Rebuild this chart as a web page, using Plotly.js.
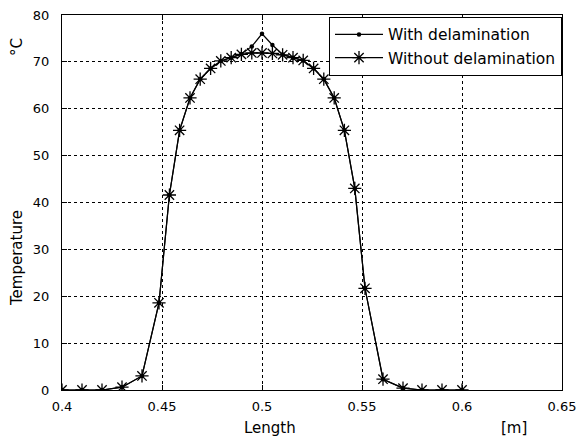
<!DOCTYPE html>
<html>
<head>
<meta charset="utf-8">
<script src="https://cdn.plot.ly/plotly-3.0.1.min.js"></script>
<style>html,body{margin:0;padding:0;background:#fff;}#chart{width:578px;height:438px;}</style>
</head>
<body>
<div id="chart"></div>
<script>
// Positions along the length [m]
const lengthM = [0.40, 0.41, 0.42, 0.43, 0.44, 0.4485, 0.4537, 0.4588, 0.4640, 0.4691, 0.4743, 0.4794, 0.4846, 0.4897, 0.4949, 0.5000, 0.5052, 0.5103, 0.5155, 0.5206, 0.5258, 0.5309, 0.5361, 0.5412, 0.5464, 0.5515, 0.5605, 0.5705, 0.58, 0.59, 0.60];
// Temperature without delamination [°C]
const tempWithout = [0, 0, 0, 0.6, 3.0, 18.6, 41.6, 55.4, 62.3, 66.3, 68.6, 70.2, 70.9, 71.6, 71.9, 71.9, 71.8, 71.5, 70.9, 70.3, 68.6, 66.3, 62.3, 55.4, 43.0, 21.7, 2.3, 0.4, 0, 0, 0];
// Temperature with delamination [°C]
const tempWith = [0, 0, 0, 0.6, 3.0, 18.6, 41.6, 55.4, 62.3, 66.3, 68.6, 70.2, 70.9, 71.7, 73.3, 76.0, 73.6, 71.6, 70.9, 70.3, 68.6, 66.3, 62.3, 55.4, 43.0, 21.7, 2.3, 0.4, 0, 0, 0];

const xTicks = [0.4, 0.45, 0.5, 0.55, 0.6, 0.65];
const xTickText = ['0.4', '0.45', '0.5', '0.55', '0.6', '0.65'];
const yTicks = [0, 10, 20, 30, 40, 50, 60, 70, 80];

const fam = '"DejaVu Sans", Arial, sans-serif';
const tickFont = {family: fam, size: 13, color: '#000'};
const labelFont = {family: fam, size: 15, color: '#000'};

const traces = [
  {
    x: lengthM, y: tempWith, name: 'With delamination', type: 'scatter', mode: 'lines+markers',
    line: {color: '#000', width: 1.2},
    marker: {symbol: 'circle', size: 4.5, color: '#000'}
  },
  {
    x: lengthM, y: tempWithout, name: 'Without delamination', type: 'scatter', mode: 'lines+markers',
    line: {color: '#000', width: 1.2},
    marker: {symbol: 'asterisk-open', size: 11, color: '#000', line: {color: '#000', width: 1.3}}
  }
];

const axisCommon = {
  showline: true, linecolor: '#000', linewidth: 1, mirror: 'ticks',
  ticks: 'inside', ticklen: 5, tickcolor: '#000', tickwidth: 1,
  showgrid: true, gridcolor: '#000', gridwidth: 1, griddash: '3px,3px',
  zeroline: false, tickfont: tickFont
};

const layout = {
  width: 578, height: 438,
  margin: {l: 62, r: 16, t: 15, b: 48},
  paper_bgcolor: '#fff', plot_bgcolor: '#fff',
  showlegend: true,
  legend: {
    x: 1, y: 0.995, xanchor: 'right', yanchor: 'top',
    bgcolor: '#fff', bordercolor: '#000', borderwidth: 1,
    font: {family: fam, size: 15.5, color: '#000'},
    tracegroupgap: 0, itemwidth: 48
  },
  xaxis: Object.assign({}, axisCommon, {
    range: [0.4, 0.65], tickmode: 'array', tickvals: xTicks, ticktext: xTickText,
    ticklabelstandoff: 4
  }),
  yaxis: Object.assign({}, axisCommon, {
    range: [0, 80], tickmode: 'array', tickvals: yTicks,
    ticklabelstandoff: 9
  }),
  annotations: [
    {text: 'Temperature', xref: 'paper', yref: 'paper', x: -0.09, y: 0.352, textangle: -90, showarrow: false, xanchor: 'center', yanchor: 'middle', font: labelFont},
    {text: '°C', xref: 'paper', yref: 'paper', x: -0.09, y: 0.915, textangle: -90, showarrow: false, xanchor: 'center', yanchor: 'middle', font: labelFont},
    {text: 'Length', xref: 'paper', yref: 'paper', x: 0.416, y: -0.101, showarrow: false, xanchor: 'center', yanchor: 'middle', font: labelFont},
    {text: '[m]', xref: 'paper', yref: 'paper', x: 0.904, y: -0.101, showarrow: false, xanchor: 'center', yanchor: 'middle', font: labelFont}
  ]
};

Plotly.newPlot('chart', traces, layout, {displayModeBar: false, staticPlot: true});
</script>
</body>
</html>
